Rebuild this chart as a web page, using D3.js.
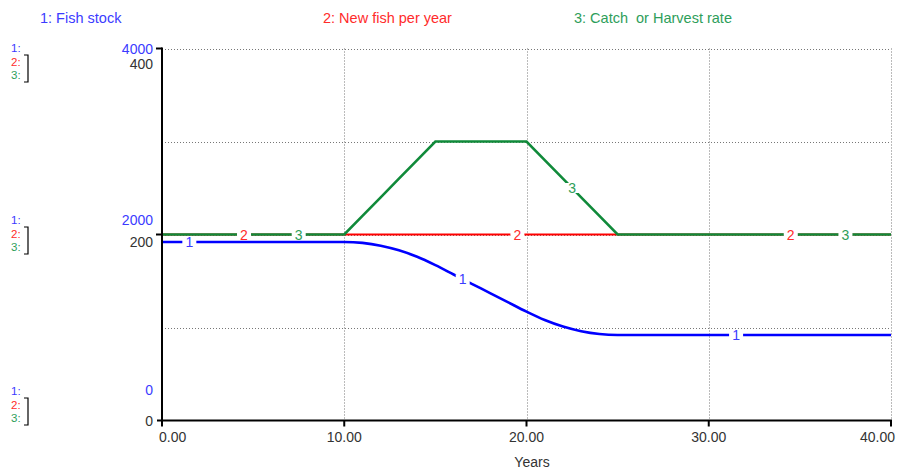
<!DOCTYPE html>
<html><head><meta charset="utf-8">
<script src="https://cdn.jsdelivr.net/npm/d3@7/dist/d3.min.js"></script>
<style>body{margin:0;background:#fff}svg{display:block;font-family:"Liberation Sans",Arial,sans-serif}text{white-space:pre}</style>
</head><body><svg id="c" width="897" height="471"></svg>
<script>
const years = d3.range(0, 41);
const fishStock = [1920,1920,1920,1920,1920,1920,1920,1920,1920,1920,1920,
  1910,1880,1830,1760,1670,1570,1470,1370,1270,1170,1080,1010,960,930,920,
  920,920,920,920,920,920,920,920,920,920,920,920,920,920,920];
const newFish = years.map(() => 200);
const catchRate = [200,200,200,200,200,200,200,200,200,200,200,
  220,240,260,280,300,300,300,300,300,300,280,260,240,220,200,
  200,200,200,200,200,200,200,200,200,200,200,200,200,200,200];
const xTicks = [0,10,20,30,40];
const xTickLabels = ["0.00","10.00","20.00","30.00","40.00"];
const seriesNames = ["1: Fish stock","2: New fish per year","3: Catch  or Harvest rate"];
const stockTicks = ["4000","2000","0"];
const rateTicks = ["400","200","0"];
const labelYears = [[1.5,16.5,31.5],[4.5,19.5,34.5],[7.5,22.5,37.5]];

const svg = d3.select("#c");
const L=162, R=891, T=48.5, B=420.5;
const x = d3.scaleLinear().domain([0,40]).range([L,R]);
const yS = d3.scaleLinear().domain([0,4000]).range([B,T]);
const yR = d3.scaleLinear().domain([0,400]).range([B,T]);
const lineCol = ["#0000ff","#ff0000","#108a3a"];
const textCol = ["#3b3bff","#ff2b2b","#2e9e5a"];

// grid
const g = svg.append("g").attr("stroke","#777").attr("stroke-width",1).attr("stroke-dasharray","1,2");
[10,20,30,40].forEach(v=>g.append("line").attr("x1",Math.round(x(v))+0.5).attr("x2",Math.round(x(v))+0.5).attr("y1",T).attr("y2",B));
[4000,3000,2000,1000].forEach(v=>g.append("line").attr("x1",L).attr("x2",R).attr("y1",Math.round(yS(v))+0.5).attr("y2",Math.round(yS(v))+0.5));

// lines
const mk = (ys, sc) => d3.line().x((d,i)=>x(years[i])).y(d=>sc(d));
svg.append("path").datum(newFish).attr("d",mk(newFish,yR)).attr("fill","none").attr("stroke",lineCol[1]).attr("stroke-width",2.2);
svg.append("path").datum(fishStock).attr("d",mk(fishStock,yS).curve(d3.curveMonotoneX)).attr("fill","none").attr("stroke",lineCol[0]).attr("stroke-width",2.6);
svg.append("path").datum(catchRate).attr("d",mk(catchRate,yR)).attr("fill","none").attr("stroke",lineCol[2]).attr("stroke-width",2.6);

// line labels
const interp = (arr,t)=>{const i=Math.floor(t), f=t-i; return arr[i]+(arr[Math.min(i+1,40)]-arr[i])*f;};
const dataSets = [[fishStock,yS],[newFish,yR],[catchRate,yR]];
labelYears.forEach((ts,k)=>ts.forEach(t=>{
  const px=x(t), py=dataSets[k][1](interp(dataSets[k][0],t));
  svg.append("rect").attr("x",px-7).attr("y",py-5).attr("width",14).attr("height",10).attr("fill","#fff");
  svg.append("text").attr("x",px).attr("y",py+5).attr("text-anchor","middle").attr("font-size",14).attr("fill",textCol[k]).text(String(k+1));
}));

// axes
const ax = svg.append("g").attr("stroke","#000").attr("stroke-width",2);
ax.append("line").attr("x1",L).attr("x2",L).attr("y1",T-1).attr("y2",B+5);
ax.append("line").attr("x1",L-5).attr("x2",R+1).attr("y1",B).attr("y2",B);
ax.append("line").attr("x1",L-6).attr("x2",L).attr("y1",T).attr("y2",T);
ax.append("line").attr("x1",L-6).attr("x2",L).attr("y1",yS(2000)).attr("y2",yS(2000));
xTicks.forEach(v=>ax.append("line").attr("x1",x(v)).attr("x2",x(v)).attr("y1",B).attr("y2",B+6));

// x tick labels
xTicks.forEach((v,i)=>{
  const anchor = i===0?"start":(i===xTicks.length-1?"end":"middle");
  const xx = i===0? x(v)-3 : (i===xTicks.length-1? x(v)+4 : x(v));
  svg.append("text").attr("x",xx).attr("y",442).attr("text-anchor",anchor).attr("font-size",14).attr("fill","#333").text(xTickLabels[i]);
});
svg.append("text").attr("x",532).attr("y",467).attr("text-anchor","middle").attr("font-size",14).attr("fill","#333").text("Years");

// y tick labels
const stockY = [yS(4000)+5, yS(2000)-10, yS(0)-26];
const rateY = [yR(400)+20, yR(200)+12, yR(0)+5];
stockTicks.forEach((t,i)=>svg.append("text").attr("x",153).attr("y",stockY[i]).attr("text-anchor","end").attr("font-size",14).attr("fill",textCol[0]).text(t));
rateTicks.forEach((t,i)=>svg.append("text").attr("x",153).attr("y",rateY[i]).attr("text-anchor","end").attr("font-size",14).attr("fill","#333").text(t));

// left series keys
[52,224,395].forEach(b=>{
  [0,1,2].forEach(k=>svg.append("text").attr("x",11).attr("y",b+k*13.5).attr("font-size",11.5).attr("fill",textCol[k]).text((k+1)+":"));
  svg.append("path").attr("d",`M24,${b+3}H28V${b+30}H24`).attr("fill","none").attr("stroke","#000").attr("stroke-width",1.2);
});

// header
[40,323,574].forEach((xx,k)=>svg.append("text").attr("x",xx).attr("y",23).attr("font-size",14.5).attr("fill",textCol[k]).text(seriesNames[k]));
</script></body></html>
